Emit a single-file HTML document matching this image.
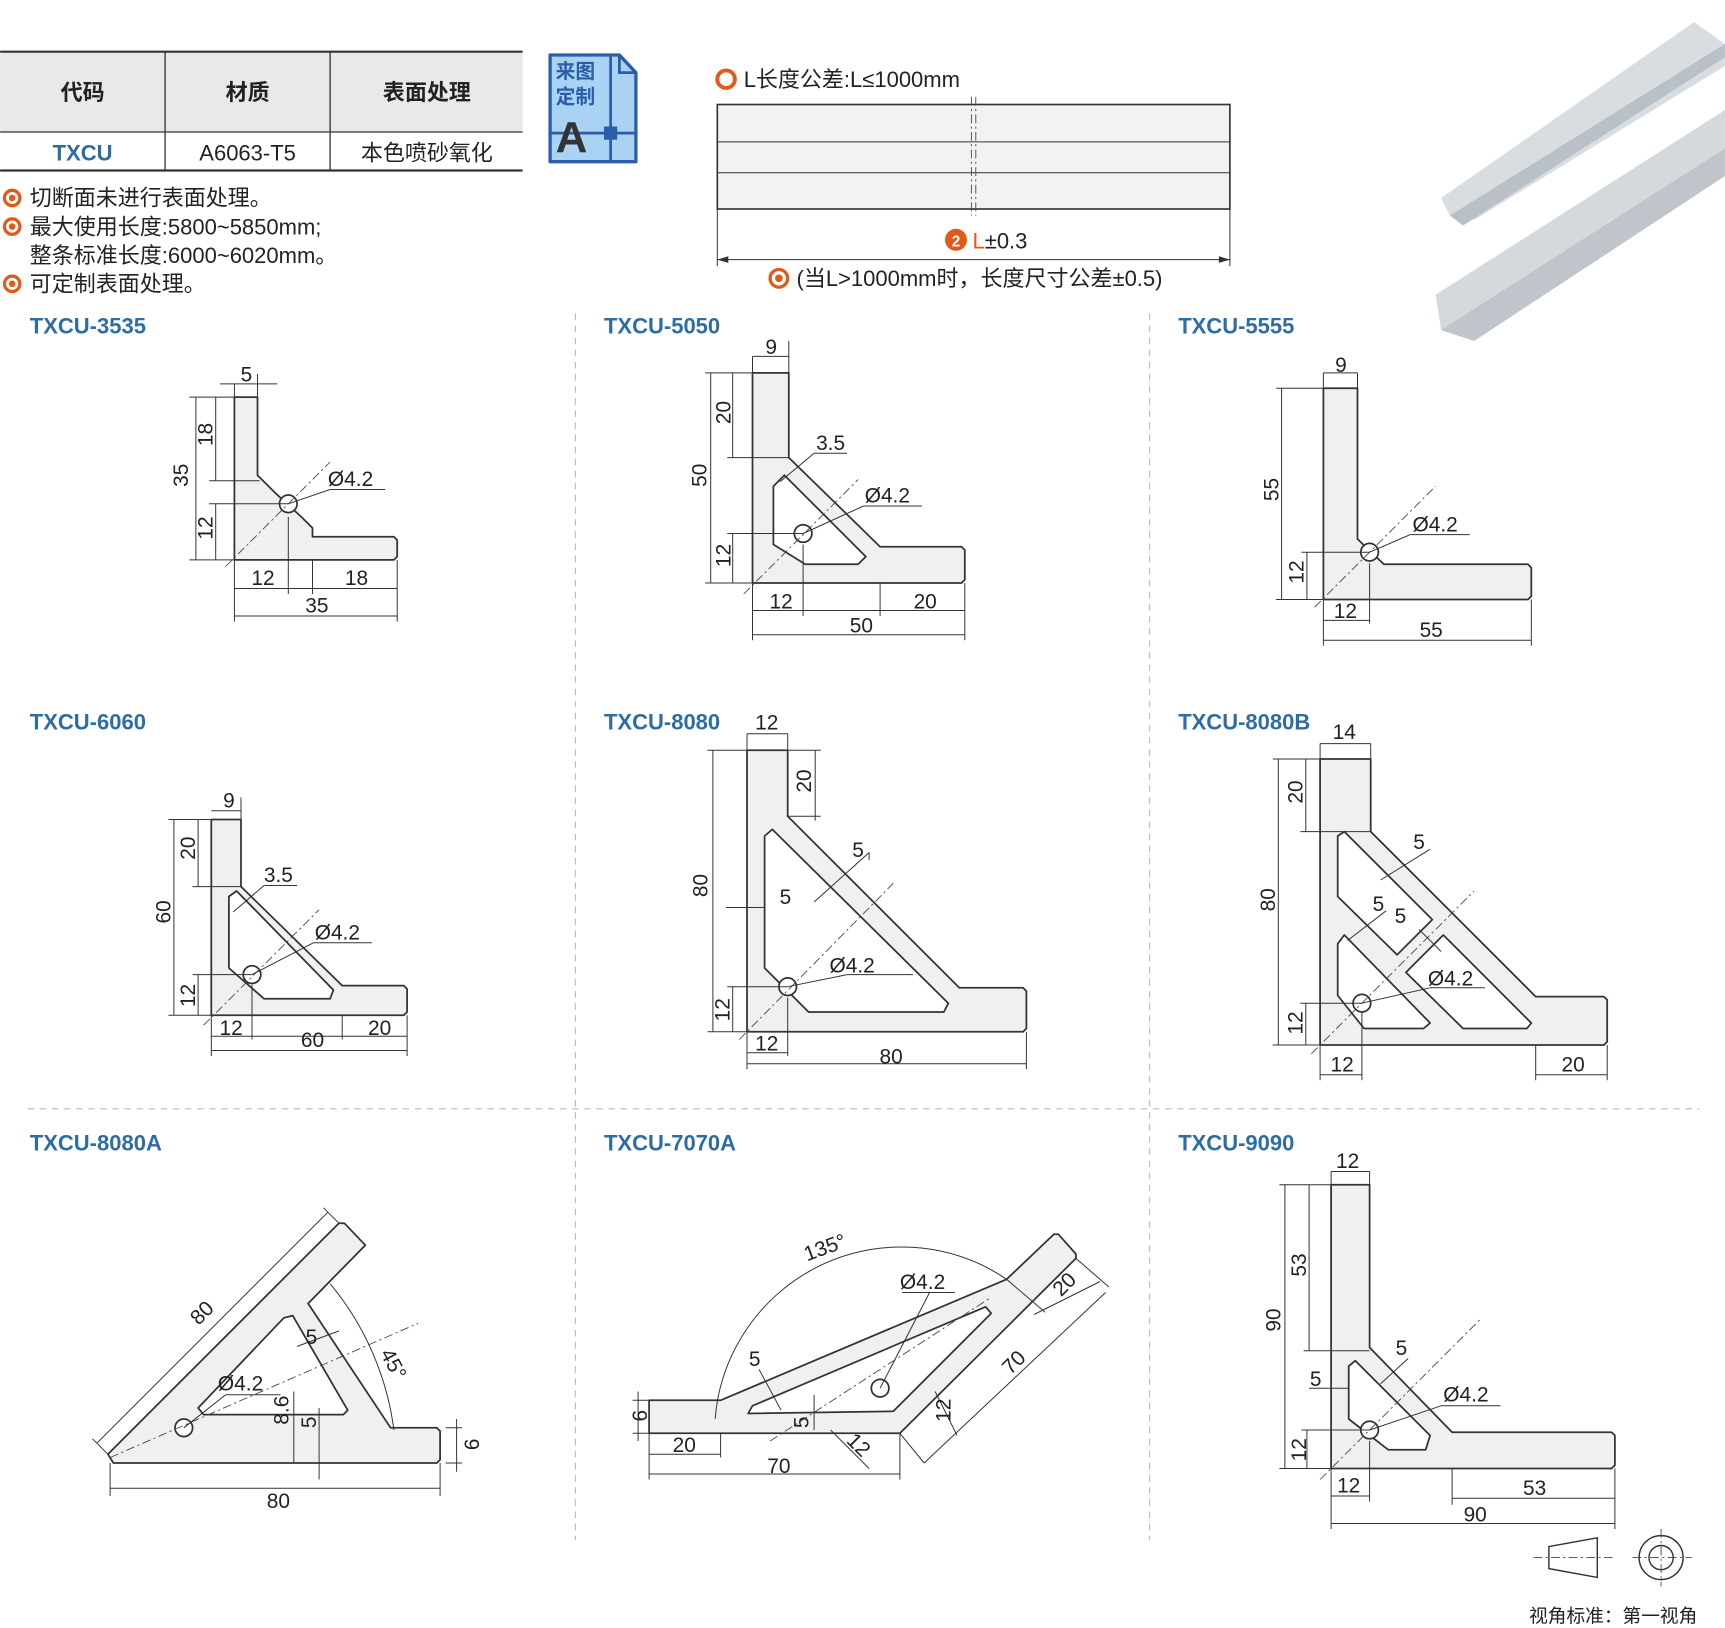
<!DOCTYPE html>
<html><head><meta charset="utf-8"><style>
html,body{margin:0;padding:0;background:#fff;}
svg{display:block;}
text{font-family:"Liberation Sans","Noto Sans CJK SC",sans-serif;fill:#222;}
.t{font-size:20px;font-weight:bold;fill:#2e6da4;}
.d{font-size:19px;}
.p{fill:#f0f0f0;stroke:#333;stroke-width:1.6;stroke-linejoin:round;}
.c{fill:#fff;stroke:#333;stroke-width:1.6;stroke-linejoin:round;}
.l{stroke:#333;stroke-width:0.9;fill:none;}
.dash{stroke:#444;stroke-width:0.8;stroke-dasharray:8 3 2 3;fill:none;}
.sep{stroke:#bbb;stroke-width:1;stroke-dasharray:6 5;}
</style></head><body>
<svg width="1725" height="1628" viewBox="0 0 1568 1480" xmlns="http://www.w3.org/2000/svg">
<!-- table -->
<rect x="0" y="47" width="475" height="73" fill="#e9e9e9"/>
<line x1="0" y1="47" x2="475" y2="47" stroke="#333" stroke-width="2"/>
<line x1="0" y1="120" x2="475" y2="120" stroke="#333" stroke-width="1.2"/>
<line x1="0" y1="155" x2="475" y2="155" stroke="#333" stroke-width="2"/>
<line x1="150" y1="47" x2="150" y2="155" stroke="#333" stroke-width="1.2"/>
<line x1="300" y1="47" x2="300" y2="155" stroke="#333" stroke-width="1.2"/>
<text x="75" y="91" font-size="20" font-weight="bold" text-anchor="middle">代码</text>
<text x="225" y="91" font-size="20" font-weight="bold" text-anchor="middle">材质</text>
<text x="388" y="91" font-size="20" font-weight="bold" text-anchor="middle">表面处理</text>
<text x="75" y="146" font-size="20" font-weight="bold" text-anchor="middle" style="fill:#2e6da4">TXCU</text>
<text x="225" y="146" font-size="20" text-anchor="middle">A6063-T5</text>
<text x="388" y="146" font-size="20" text-anchor="middle">本色喷砂氧化</text>
<!-- icon -->
<path d="M500,50 H563 L578,66 V147 H500 Z" fill="#a9d2f3" stroke="#2b5da8" stroke-width="3" stroke-linejoin="round"/>
<path d="M563,50 V66 H578" fill="none" stroke="#2b5da8" stroke-width="2.5"/>
<line x1="500" y1="121" x2="578" y2="121" stroke="#2b5da8" stroke-width="2.5"/>
<line x1="555" y1="50" x2="555" y2="147" stroke="#2b5da8" stroke-width="2.5"/>
<rect x="549" y="115" width="12" height="12" fill="#2b5da8"/>
<text x="505" y="71" font-size="18" style="fill:#2b5da8" font-weight="bold">来图</text>
<text x="505" y="94" font-size="18" style="fill:#2b5da8" font-weight="bold">定制</text>
<text x="505" y="138" font-size="40" font-weight="bold" style="fill:#333">A</text>
<!-- notes -->
<g font-size="20">
<circle cx="11" cy="180" r="7" fill="none" stroke="#e05a1c" stroke-width="3"/><circle cx="11" cy="180" r="3" fill="#e05a1c"/>
<text x="27" y="187">切断面未进行表面处理。</text>
<circle cx="11" cy="206" r="7" fill="none" stroke="#e05a1c" stroke-width="3"/><circle cx="11" cy="206" r="3" fill="#e05a1c"/>
<text x="27" y="213">最大使用长度:5800~5850mm;</text>
<text x="27" y="239">整条标准长度:6000~6020mm。</text>
<circle cx="11" cy="258" r="7" fill="none" stroke="#e05a1c" stroke-width="3"/><circle cx="11" cy="258" r="3" fill="#e05a1c"/>
<text x="27" y="265">可定制表面处理。</text>
</g>
<!-- length drawing -->
<circle cx="660" cy="72" r="8" fill="none" stroke="#e05a1c" stroke-width="3.5"/>
<text x="676" y="79" font-size="20">L长度公差:L≤1000mm</text>
<rect x="652" y="95" width="466" height="95" fill="#f2f2f2" stroke="#333" stroke-width="1.5"/>
<line x1="652" y1="129" x2="1118" y2="129" class="l"/>
<line x1="652" y1="157" x2="1118" y2="157" class="l"/>
<line x1="883" y1="88" x2="883" y2="196" class="dash"/><line x1="887" y1="88" x2="887" y2="196" class="dash"/>
<line x1="652" y1="190" x2="652" y2="242" class="l"/><line x1="1118" y1="190" x2="1118" y2="242" class="l"/>
<line x1="652" y1="236" x2="1118" y2="236" class="l"/>
<path d="M652,236 l10,-3 v6z M1118,236 l-10,-3 v6z" fill="#333"/>
<circle cx="869" cy="218" r="10" fill="#e05a1c"/><text x="869" y="224" font-size="14" text-anchor="middle" style="fill:#fff" font-weight="bold">2</text>
<text x="884" y="226" font-size="20"><tspan style="fill:#e05a1c">L</tspan>±0.3</text>
<circle cx="708" cy="253" r="8" fill="none" stroke="#e05a1c" stroke-width="3"/><circle cx="708" cy="253" r="3.5" fill="#e05a1c"/>
<text x="724" y="260" font-size="20">(当L&gt;1000mm时，长度尺寸公差±0.5)</text>
<!-- product image -->
<polygon points="1310,180 1540,20 1568,40 1568,60 1340,200 1318,196" fill="#d8dde2"/>
<polygon points="1318,196 1568,40 1568,52 1330,205" fill="#b9c0c7"/>
<polygon points="1305,268 1568,100 1568,160 1340,310 1310,300" fill="#d4d9de"/>
<polygon points="1310,300 1568,135 1568,160 1340,310" fill="#bfc5cb"/>
<!-- separators -->
<line x1="523" y1="285" x2="523" y2="1400" class="sep"/>
<line x1="1045" y1="285" x2="1045" y2="1400" class="sep"/>
<line x1="25" y1="1008" x2="1545" y2="1008" class="sep"/>
<line x1="25" y1="622" x2="1545" y2="622" class="sep" stroke-opacity="0"/>
<!-- titles -->
<text class="t" x="27" y="303">TXCU-3535</text>
<text class="t" x="549" y="303">TXCU-5050</text>
<text class="t" x="1071" y="303">TXCU-5555</text>
<text class="t" x="27" y="663">TXCU-6060</text>
<text class="t" x="549" y="663">TXCU-8080</text>
<text class="t" x="1071" y="663">TXCU-8080B</text>
<text class="t" x="27" y="1046">TXCU-8080A</text>
<text class="t" x="549" y="1046">TXCU-7070A</text>
<text class="t" x="1071" y="1046">TXCU-9090</text>

<!-- 3535 -->
<polygon class="p" points="213,361 234,361 234,432 250,448 274,470 284,480 284,488 358,488 361,491 361,506 358,509 213,509"/>
<circle class="c" cx="262" cy="458" r="8"/>
<line x1="205" y1="515" x2="300" y2="420" class="dash"/>
<g class="l"><line x1="213" y1="349" x2="213" y2="361"/><line x1="234" y1="340" x2="234" y2="361"/><line x1="200" y1="349" x2="252" y2="349"/>
<line x1="172" y1="361" x2="213" y2="361"/><line x1="172" y1="509" x2="213" y2="509"/><line x1="178" y1="361" x2="178" y2="509"/>
<line x1="196" y1="361" x2="196" y2="437"/><line x1="190" y1="437" x2="236" y2="437"/><line x1="196" y1="458" x2="196" y2="509"/><line x1="190" y1="458" x2="262" y2="458"/>
<line x1="213" y1="509" x2="213" y2="565"/><line x1="361" y1="509" x2="361" y2="565"/><line x1="213" y1="560" x2="361" y2="560"/>
<line x1="262" y1="470" x2="262" y2="540"/><line x1="284" y1="509" x2="284" y2="540"/><line x1="213" y1="535" x2="361" y2="535"/>
<line x1="262" y1="458" x2="300" y2="445"/><line x1="300" y1="445" x2="350" y2="445"/></g>
<g class="d"><text x="224" y="347" text-anchor="middle">5</text>
<text transform="translate(193,395) rotate(-90)" text-anchor="middle">18</text>
<text transform="translate(171,432) rotate(-90)" text-anchor="middle">35</text>
<text transform="translate(193,480) rotate(-90)" text-anchor="middle">12</text>
<text x="298" y="442">Ø4.2</text><text x="239" y="532" text-anchor="middle">12</text><text x="324" y="532" text-anchor="middle">18</text><text x="288" y="557" text-anchor="middle">35</text></g>

<!-- 5050 -->
<polygon class="p" points="684,339 717,339 717,416 800,497 874,497 877,500 877,527 874,530 684,530"/>
<polygon class="c" points="703,442 713,432 787,506 780,513 732,513 703,495"/>
<circle class="c" cx="730" cy="485" r="8"/>
<line x1="676" y1="540" x2="780" y2="436" class="dash"/>
<g class="l"><line x1="684" y1="324" x2="717" y2="324"/><line x1="684" y1="324" x2="684" y2="339"/><line x1="717" y1="310" x2="717" y2="339"/>
<line x1="641" y1="339" x2="684" y2="339"/><line x1="646" y1="339" x2="646" y2="530"/><line x1="641" y1="530" x2="684" y2="530"/>
<line x1="666" y1="339" x2="666" y2="416"/><line x1="661" y1="416" x2="717" y2="416"/><line x1="666" y1="485" x2="666" y2="530"/><line x1="661" y1="485" x2="730" y2="485"/>
<line x1="684" y1="530" x2="684" y2="582"/><line x1="877" y1="530" x2="877" y2="582"/><line x1="684" y1="577" x2="877" y2="577"/>
<line x1="730" y1="495" x2="730" y2="560"/><line x1="800" y1="530" x2="800" y2="560"/><line x1="684" y1="555" x2="877" y2="555"/>
<line x1="709" y1="438" x2="740" y2="412"/><line x1="740" y1="412" x2="770" y2="412"/>
<line x1="730" y1="485" x2="785" y2="460"/><line x1="785" y1="460" x2="838" y2="460"/></g>
<g class="d"><text x="701" y="322" text-anchor="middle">9</text>
<text transform="translate(664,375) rotate(-90)" text-anchor="middle">20</text>
<text transform="translate(642,432) rotate(-90)" text-anchor="middle">50</text>
<text transform="translate(664,505) rotate(-90)" text-anchor="middle">12</text>
<text x="755" y="409" text-anchor="middle">3.5</text><text x="786" y="457">Ø4.2</text>
<text x="710" y="553" text-anchor="middle">12</text><text x="841" y="553" text-anchor="middle">20</text><text x="783" y="575" text-anchor="middle">50</text></g>

<!-- 5555 -->
<polygon class="p" points="1203,353 1234,353 1234,490 1258,513 1389,513 1392,516 1392,542 1389,545 1203,545"/>
<circle class="c" cx="1245" cy="502" r="8"/>
<line x1="1195" y1="552" x2="1305" y2="442" class="dash"/>
<g class="l"><line x1="1203" y1="339" x2="1234" y2="339"/><line x1="1203" y1="339" x2="1203" y2="353"/><line x1="1234" y1="339" x2="1234" y2="353"/>
<line x1="1160" y1="353" x2="1203" y2="353"/><line x1="1165" y1="353" x2="1165" y2="545"/><line x1="1160" y1="545" x2="1203" y2="545"/>
<line x1="1188" y1="502" x2="1188" y2="545"/><line x1="1183" y1="502" x2="1245" y2="502"/>
<line x1="1203" y1="545" x2="1203" y2="587"/><line x1="1392" y1="545" x2="1392" y2="587"/><line x1="1203" y1="582" x2="1392" y2="582"/>
<line x1="1245" y1="512" x2="1245" y2="567"/><line x1="1203" y1="564" x2="1245" y2="564"/>
<line x1="1245" y1="502" x2="1282" y2="486"/><line x1="1282" y1="486" x2="1336" y2="486"/></g>
<g class="d"><text x="1219" y="338" text-anchor="middle">9</text>
<text transform="translate(1162,445) rotate(-90)" text-anchor="middle">55</text>
<text transform="translate(1185,520) rotate(-90)" text-anchor="middle">12</text>
<text x="1284" y="483">Ø4.2</text><text x="1223" y="562" text-anchor="middle">12</text><text x="1301" y="579" text-anchor="middle">55</text></g>

<!-- 6060 -->
<polygon class="p" points="192,745 219,745 219,806 311,896 367,896 370,899 370,920 367,923 192,923"/>
<polygon class="c" points="208,815 215,810 303,900 300,908 240,908 208,880"/>
<circle class="c" cx="229" cy="886" r="8"/>
<line x1="185" y1="932" x2="290" y2="827" class="dash"/>
<g class="l"><line x1="192" y1="737" x2="219" y2="737"/><line x1="219" y1="725" x2="219" y2="745"/>
<line x1="153" y1="745" x2="192" y2="745"/><line x1="158" y1="745" x2="158" y2="923"/><line x1="153" y1="923" x2="192" y2="923"/>
<line x1="180" y1="745" x2="180" y2="806"/><line x1="175" y1="806" x2="219" y2="806"/><line x1="180" y1="886" x2="180" y2="923"/><line x1="175" y1="886" x2="229" y2="886"/>
<line x1="192" y1="923" x2="192" y2="960"/><line x1="370" y1="923" x2="370" y2="960"/><line x1="192" y1="955" x2="370" y2="955"/>
<line x1="229" y1="895" x2="229" y2="945"/><line x1="311" y1="923" x2="311" y2="945"/><line x1="192" y1="942" x2="370" y2="942"/>
<line x1="212" y1="829" x2="240" y2="805"/><line x1="240" y1="805" x2="270" y2="805"/>
<line x1="229" y1="886" x2="285" y2="857"/><line x1="285" y1="857" x2="338" y2="857"/></g>
<g class="d"><text x="208" y="734" text-anchor="middle">9</text>
<text transform="translate(177,771) rotate(-90)" text-anchor="middle">20</text>
<text transform="translate(155,829) rotate(-90)" text-anchor="middle">60</text>
<text transform="translate(177,905) rotate(-90)" text-anchor="middle">12</text>
<text x="253" y="802" text-anchor="middle">3.5</text><text x="286" y="854">Ø4.2</text>
<text x="210" y="941" text-anchor="middle">12</text><text x="284" y="952" text-anchor="middle">60</text><text x="345" y="941" text-anchor="middle">20</text></g>

<!-- 8080 -->
<polygon class="p" points="679,682 716,682 716,742 872,898 930,898 933,901 933,935 930,938 679,938"/>
<polygon class="c" points="695,760 702,754 862,912 858,920 735,920 695,880"/>
<circle class="c" cx="716" cy="897" r="8"/>
<line x1="672" y1="945" x2="812" y2="803" class="dash"/>
<g class="l"><line x1="679" y1="667" x2="716" y2="667"/><line x1="679" y1="667" x2="679" y2="682"/><line x1="716" y1="667" x2="716" y2="682"/>
<line x1="643" y1="682" x2="679" y2="682"/><line x1="648" y1="682" x2="648" y2="938"/><line x1="643" y1="938" x2="679" y2="938"/>
<line x1="741" y1="682" x2="741" y2="746"/><line x1="716" y1="742" x2="746" y2="742"/><line x1="716" y1="682" x2="746" y2="682"/>
<line x1="666" y1="897" x2="666" y2="938"/><line x1="661" y1="897" x2="716" y2="897"/>
<line x1="679" y1="938" x2="679" y2="972"/><line x1="933" y1="938" x2="933" y2="972"/><line x1="679" y1="967" x2="933" y2="967"/>
<line x1="716" y1="907" x2="716" y2="960"/><line x1="679" y1="957" x2="716" y2="957"/>
<line x1="660" y1="825" x2="695" y2="825"/><line x1="740" y1="820" x2="790" y2="775"/><line x1="790" y1="775" x2="790" y2="782"/>
<line x1="716" y1="897" x2="770" y2="886"/><line x1="770" y1="886" x2="830" y2="886"/></g>
<g class="d"><text x="697" y="663" text-anchor="middle">12</text>
<text transform="translate(737,710) rotate(-90)" text-anchor="middle">20</text>
<text transform="translate(643,805) rotate(-90)" text-anchor="middle">80</text>
<text transform="translate(663,918) rotate(-90)" text-anchor="middle">12</text>
<text x="780" y="779" text-anchor="middle">5</text><text x="714" y="822" text-anchor="middle">5</text><text x="754" y="884">Ø4.2</text>
<text x="697" y="955" text-anchor="middle">12</text><text x="810" y="967" text-anchor="middle">80</text></g>

<!-- 8080B -->
<polygon class="p" points="1200,690 1246,690 1246,756 1396,906 1458,906 1461,909 1461,947 1458,950 1200,950"/>
<polygon class="c" points="1216,760 1222,756 1302,836 1270,868 1216,815"/>
<polygon class="c" points="1216,858 1222,850 1300,930 1294,935 1240,935 1216,905"/>
<polygon class="c" points="1312,850 1392,930 1388,935 1330,935 1278,884"/>
<circle class="c" cx="1238" cy="912" r="8"/>
<line x1="1192" y1="958" x2="1340" y2="810" class="dash"/>
<g class="l"><line x1="1200" y1="676" x2="1246" y2="676"/><line x1="1200" y1="676" x2="1200" y2="690"/><line x1="1246" y1="676" x2="1246" y2="690"/>
<line x1="1157" y1="690" x2="1200" y2="690"/><line x1="1162" y1="690" x2="1162" y2="950"/><line x1="1157" y1="950" x2="1200" y2="950"/>
<line x1="1187" y1="690" x2="1187" y2="756"/><line x1="1182" y1="756" x2="1246" y2="756"/>
<line x1="1187" y1="912" x2="1187" y2="950"/><line x1="1182" y1="912" x2="1238" y2="912"/>
<line x1="1200" y1="950" x2="1200" y2="982"/><line x1="1238" y1="920" x2="1238" y2="982"/><line x1="1200" y1="977" x2="1238" y2="977"/>
<line x1="1396" y1="950" x2="1396" y2="982"/><line x1="1461" y1="950" x2="1461" y2="982"/><line x1="1396" y1="977" x2="1461" y2="977"/>
<line x1="1255" y1="800" x2="1300" y2="772"/><line x1="1225" y1="855" x2="1260" y2="828"/><line x1="1290" y1="845" x2="1310" y2="865"/>
<line x1="1238" y1="912" x2="1300" y2="898"/><line x1="1300" y1="898" x2="1350" y2="898"/></g>
<g class="d"><text x="1222" y="672" text-anchor="middle">14</text>
<text transform="translate(1184,720) rotate(-90)" text-anchor="middle">20</text>
<text transform="translate(1159,818) rotate(-90)" text-anchor="middle">80</text>
<text transform="translate(1184,930) rotate(-90)" text-anchor="middle">12</text>
<text x="1290" y="772" text-anchor="middle">5</text><text x="1253" y="828" text-anchor="middle">5</text><text x="1273" y="839" text-anchor="middle">5</text>
<text x="1298" y="896">Ø4.2</text><text x="1220" y="974" text-anchor="middle">12</text><text x="1430" y="974" text-anchor="middle">20</text></g>

<!-- 8080A -->
<polygon class="p" points="103,1330 98,1322 308,1112 313,1112 332,1132 280,1185 355,1298 397,1298 400,1301 400,1327 397,1330"/>
<polygon class="c" points="180,1280 258,1198 266,1196 316,1282 312,1286 185,1286"/>
<circle class="c" cx="167" cy="1298" r="8"/>
<line x1="100" y1="1325" x2="380" y2="1203" class="dash"/>
<line x1="100" y1="1325" x2="400" y2="1325" class="dash" stroke-opacity="0"/>
<g class="l"><line x1="88" y1="1312" x2="298" y2="1102"/><line x1="98" y1="1322" x2="84" y2="1308"/><line x1="308" y1="1112" x2="294" y2="1098"/>
<path d="M300,1167 A260,260 0 0 1 358,1300"/>
<line x1="270" y1="1224" x2="308" y2="1210"/>
<line x1="100" y1="1330" x2="100" y2="1360"/><line x1="400" y1="1330" x2="400" y2="1360"/><line x1="100" y1="1353" x2="400" y2="1353"/>
<line x1="167" y1="1298" x2="205" y2="1268"/><line x1="205" y1="1268" x2="255" y2="1268"/>
<line x1="267" y1="1265" x2="267" y2="1330"/><line x1="290" y1="1280" x2="290" y2="1345"/>
<line x1="405" y1="1298" x2="420" y2="1298"/><line x1="405" y1="1330" x2="420" y2="1330"/><line x1="415" y1="1290" x2="415" y2="1338"/></g>
<g class="d"><text transform="translate(188,1198) rotate(-45)" text-anchor="middle">80</text>
<text x="283" y="1222" text-anchor="middle">5</text>
<text transform="translate(352,1243) rotate(62)" text-anchor="middle">45°</text>
<text x="198" y="1264">Ø4.2</text>
<text transform="translate(262,1282) rotate(-90)" text-anchor="middle">8.6</text>
<text transform="translate(287,1293) rotate(-90)" text-anchor="middle">5</text>
<text transform="translate(422,1313) rotate(90)" text-anchor="middle">9</text>
<text x="253" y="1371" text-anchor="middle">80</text></g>

<!-- 7070A -->
<polygon class="p" points="590,1273 655,1273 915,1163 958,1122 962,1122 978,1140 978,1144 818,1303 590,1303"/>
<polygon class="c" points="680,1285 684,1278 896,1188 901,1194 812,1283"/>
<circle class="c" cx="800" cy="1262" r="8"/>
<line x1="700" y1="1310" x2="900" y2="1180" class="dash"/>
<g class="l"><path d="M650,1290 A170,170 0 0 1 915,1163"/>
<line x1="978" y1="1144" x2="1008" y2="1170"/><line x1="915" y1="1163" x2="950" y2="1193"/><line x1="1000" y1="1165" x2="940" y2="1195"/>
<line x1="1005" y1="1175" x2="840" y2="1330"/><line x1="818" y1="1303" x2="840" y2="1330"/>
<line x1="590" y1="1303" x2="590" y2="1345"/><line x1="818" y1="1303" x2="818" y2="1345"/><line x1="590" y1="1340" x2="818" y2="1340"/>
<line x1="655" y1="1303" x2="655" y2="1325"/><line x1="590" y1="1322" x2="655" y2="1322"/>
<line x1="575" y1="1273" x2="590" y2="1273"/><line x1="575" y1="1303" x2="590" y2="1303"/><line x1="580" y1="1265" x2="580" y2="1310"/>
<line x1="690" y1="1245" x2="710" y2="1282"/><line x1="740" y1="1268" x2="740" y2="1300"/>
<line x1="755" y1="1300" x2="790" y2="1335"/><line x1="850" y1="1265" x2="870" y2="1305"/>
<line x1="800" y1="1262" x2="845" y2="1175"/><line x1="820" y1="1175" x2="868" y2="1175"/></g>
<g class="d"><text transform="translate(752,1140) rotate(-20)" text-anchor="middle">135°</text>
<text x="818" y="1172">Ø4.2</text>
<text transform="translate(972,1172) rotate(-45)" text-anchor="middle">20</text>
<text transform="translate(926,1243) rotate(-45)" text-anchor="middle">70</text>
<text x="686" y="1242" text-anchor="middle">5</text>
<text transform="translate(735,1293) rotate(-90)" text-anchor="middle">5</text>
<text transform="translate(864,1282) rotate(-90)" text-anchor="middle">12</text>
<text transform="translate(776,1318) rotate(45)" text-anchor="middle">12</text>
<text transform="translate(575,1287) rotate(90)" text-anchor="middle">9</text>
<text x="622" y="1320" text-anchor="middle">20</text><text x="708" y="1339" text-anchor="middle">70</text></g>

<!-- 9090 -->
<polygon class="p" points="1210,1077 1245,1077 1245,1225 1320,1302 1465,1302 1468,1305 1468,1332 1465,1335 1210,1335"/>
<polygon class="c" points="1226,1242 1232,1237 1300,1305 1296,1318 1262,1318 1226,1290"/>
<circle class="c" cx="1245" cy="1300" r="8"/>
<line x1="1200" y1="1345" x2="1345" y2="1200" class="dash"/>
<g class="l"><line x1="1210" y1="1065" x2="1245" y2="1065"/><line x1="1210" y1="1065" x2="1210" y2="1077"/><line x1="1245" y1="1065" x2="1245" y2="1077"/>
<line x1="1163" y1="1077" x2="1210" y2="1077"/><line x1="1168" y1="1077" x2="1168" y2="1335"/><line x1="1163" y1="1335" x2="1210" y2="1335"/>
<line x1="1190" y1="1077" x2="1190" y2="1228"/><line x1="1185" y1="1228" x2="1245" y2="1228"/>
<line x1="1188" y1="1300" x2="1188" y2="1335"/><line x1="1183" y1="1300" x2="1245" y2="1300"/>
<line x1="1210" y1="1335" x2="1210" y2="1390"/><line x1="1468" y1="1335" x2="1468" y2="1390"/><line x1="1210" y1="1385" x2="1468" y2="1385"/>
<line x1="1245" y1="1310" x2="1245" y2="1365"/><line x1="1210" y1="1360" x2="1245" y2="1360"/>
<line x1="1320" y1="1335" x2="1320" y2="1368"/><line x1="1320" y1="1362" x2="1468" y2="1362"/>
<line x1="1255" y1="1258" x2="1280" y2="1235"/><line x1="1190" y1="1262" x2="1226" y2="1262"/>
<line x1="1245" y1="1300" x2="1310" y2="1278"/><line x1="1310" y1="1278" x2="1364" y2="1278"/></g>
<g class="d"><text x="1225" y="1062" text-anchor="middle">12</text>
<text transform="translate(1187,1150) rotate(-90)" text-anchor="middle">53</text>
<text transform="translate(1164,1200) rotate(-90)" text-anchor="middle">90</text>
<text x="1274" y="1232" text-anchor="middle">5</text><text x="1196" y="1260" text-anchor="middle">5</text>
<text x="1312" y="1274">Ø4.2</text>
<text transform="translate(1187,1318) rotate(-90)" text-anchor="middle">12</text>
<text x="1226" y="1357" text-anchor="middle">12</text><text x="1395" y="1359" text-anchor="middle">53</text><text x="1341" y="1383" text-anchor="middle">90</text></g>

<!-- projection symbol -->
<polygon points="1408,1406 1452,1398 1452,1434 1408,1426" fill="none" stroke="#333" stroke-width="1.3"/>
<line x1="1394" y1="1416" x2="1468" y2="1416" class="dash"/>
<circle cx="1510" cy="1416" r="20" fill="none" stroke="#333" stroke-width="1.3"/>
<circle cx="1510" cy="1416" r="11" fill="none" stroke="#333" stroke-width="1.3"/>
<line x1="1484" y1="1416" x2="1538" y2="1416" class="dash"/><line x1="1510" y1="1390" x2="1510" y2="1442" class="dash"/>
<text x="1390" y="1475" font-size="17">视角标准：第一视角</text>
</svg>
</body></html>
